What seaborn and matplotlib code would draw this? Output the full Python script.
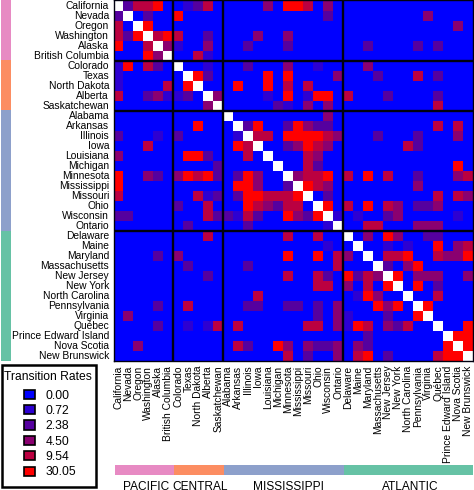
import numpy as np
import matplotlib
matplotlib.use("Agg")
import matplotlib.pyplot as plt
from matplotlib.colors import ListedColormap, BoundaryNorm
from matplotlib.patches import Patch, Rectangle
import seaborn as sns

states = ["California", "Nevada", "Oregon", "Washington", "Alaska", "British Columbia",
          "Colorado", "Texas", "North Dakota", "Alberta", "Saskatchewan",
          "Alabama", "Arkansas", "Illinois", "Iowa", "Louisiana", "Michigan", "Minnesota",
          "Mississippi", "Missouri", "Ohio", "Wisconsin", "Ontario",
          "Delaware", "Maine", "Maryland", "Massachusetts", "New Jersey", "New York",
          "North Carolina", "Pennsylvania", "Virginia", "Québec", "Prince Edward Island",
          "Nova Scotia", "New Brunswick"]
regions = ["PACIFIC", "CENTRAL", "MISSISSIPPI", "ATLANTIC"]
region_sizes = [6, 5, 12, 13]
region_colors = ["#e78ac3", "#fc8d62", "#8da0cb", "#66c2a5"]
region_label_pos = [3.2, 8.55, 17.5, 29.7]

rates = [0.00, 0.72, 2.38, 4.50, 9.54, 30.05]
rate_colors = ["#0000ff", "#2d00d2", "#55009f", "#8a0070", "#bb0040", "#ff0000"]

# one string per row, digit = index into rates, W = diagonal (drawn white)
rows = [
    "W24450 01240 000030554030 0000000000000",
    "2W0200 50000 000000000020 0000000030000",
    "40W500 00000 000000000000 0000000000030",
    "425W45 40020 000300300000 0000000000000",
    "5004W3 10030 002000200000 0020000202000",
    "00053W 00410 000000000000 0000000000000",
    "150420 W0010 002000300100 0030000000000",
    "100000 0W520 000050500003 0002000402000",
    "100004 05W00 050050404000 0000000000000",
    "400231 120W3 000010501550 4000200002000",
    "000000 0003W 000002103030 0000000004000",
    "000000 00000 W00000000030 0000000000000",
    "000000 00500 0W2500253220 0000000004040",
    "200010 20000 01W440555543 0002000200030",
    "000400 00000 054W00235430 0000004200000",
    "300000 05520 0040W0004300 0000000000000",
    "000000 00002 00000W004200 0000000000050",
    "500320 35452 025300W34450 4050400200034",
    "500000 00000 0553002W5430 0000000300000",
    "400000 00412 02554445W020 0000000004043",
    "000000 20040 005432440W50 4050430223000",
    "220000 00042 2142005325W1 0100230000010",
    "000000 02000 00200000001W 0044000333000",
    "000000 00040 000000400400 W030530022000",
    "000000 00000 000000000010 0W00101005034",
    "000020 30000 000000500504 30W0445004335",
    "000000 02000 002000000004 000W203500000",
    "000000 00020 000000400420 5243W50333003",
    "000000 00000 000000000440 30405W0502000",
    "000000 00000 000400000000 015300W004000",
    "000020 04000 002200220203 0005350W50000",
    "030000 00000 000000000203 10002005W0000",
    "000020 01014 040000004403 154032400W005",
    "000000 00000 000000000000 0020000000W55",
    "003000 00000 042005303223 03200000005W5",
    "000000 00000 000000402003 045020000455W",
]

W, H = 474.0, 490.0


def px_axes(fig, left, top, right, bottom):
    return fig.add_axes([left / W, 1 - bottom / H, (right - left) / W, (bottom - top) / H])


sns.set_theme(style="white")
plt.rcParams["font.family"] = ["Liberation Sans", "DejaVu Sans"]

matrix = np.array([[np.nan if c == "W" else rates[int(c)] for c in r.replace(" ", "")] for r in rows])
region_codes = np.repeat(np.arange(len(regions)), region_sizes)
edges = np.cumsum(region_sizes)[:-1]

fig = plt.figure(figsize=(4.74, 4.90), dpi=100)

# main matrix
ax = px_axes(fig, 113.5, 0.5, 473, 361)
cmap = ListedColormap(rate_colors)
cmap.set_bad("white")
norm = BoundaryNorm([-0.1, 0.3, 1.5, 3.4, 7, 20, 40], cmap.N)
sns.heatmap(matrix, ax=ax, cmap=cmap, norm=norm, cbar=False, square=False,
            xticklabels=states, yticklabels=states)
ax.tick_params(axis="both", length=0, labelsize=7.4, colors="black")
ax.tick_params(axis="y", pad=3.2, labelrotation=0)
ax.tick_params(axis="x", pad=3.4, labelrotation=90)
ax.hlines(edges, 0, len(states), color="#000010", lw=1.7)
ax.vlines(edges, 0, len(states), color="#000010", lw=1.7)
for s in ax.spines.values():
    s.set_visible(True)
    s.set_color("#000010")
    s.set_linewidth(1.0)

# region strips
region_cmap = ListedColormap(region_colors)
left = px_axes(fig, 1, 0, 11, 361)
sns.heatmap(region_codes.reshape(-1, 1), ax=left, cmap=region_cmap, cbar=False,
            xticklabels=False, yticklabels=False, vmin=-0.5, vmax=3.5)

bottom = px_axes(fig, 114.5, 465, 473, 475)
sns.heatmap(region_codes.reshape(1, -1), ax=bottom, cmap=region_cmap, cbar=False,
            xticklabels=False, yticklabels=False, vmin=-0.5, vmax=3.5)
bottom.set_xticks(region_label_pos)
bottom.set_xticklabels(regions, fontsize=8.6, color="black", rotation=0)
bottom.tick_params(axis="x", length=0, pad=4.5)

# legend, box and title placed by hand since the gaps are uneven
fig.add_artist(Rectangle((1.5 / W, 1 - 487 / H), 94 / W, 122 / H, transform=fig.transFigure,
                         facecolor="white", edgecolor="black", linewidth=1.8, zorder=3))
fig.text(48 / W, 1 - 377 / H, "Transition Rates", ha="center", va="center",
         fontsize=8.7, color="black", zorder=4)
handles = [Patch(facecolor=c, edgecolor="black", linewidth=1.2, label=f"{r:.2f}")
           for c, r in zip(rate_colors, rates)]
leg = fig.legend(handles=handles, loc="upper left", bbox_to_anchor=(24 / W, 1 - 389.5 / H),
                 bbox_transform=fig.transFigure, fontsize=8.7, frameon=False,
                 borderaxespad=0, borderpad=0, handlelength=0.9, handleheight=0.8,
                 handletextpad=0.9, labelspacing=0.28)
leg.set_zorder(4)
for t in leg.get_texts():
    t.set_color("black")

fig.savefig("out.png", dpi=100)
